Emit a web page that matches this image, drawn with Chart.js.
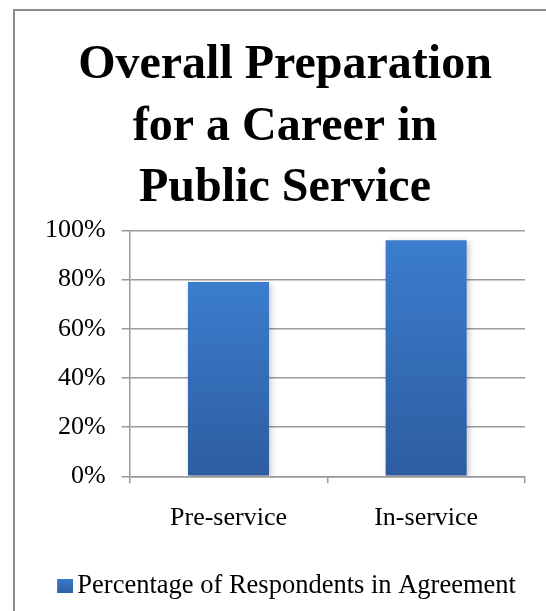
<!DOCTYPE html>
<html>
<head>
<meta charset="utf-8">
<script src="https://cdn.jsdelivr.net/npm/chart.js@4"></script>
<style>
  html, body { margin: 0; padding: 0; background: #fff; overflow: hidden; width: 546px; height: 611px; }
  #frame { position: absolute; left: 13px; top: 9px; width: 600px; height: 700px;
           border-left: 2px solid #8c8c8c; border-top: 2px solid #8c8c8c; }
  #wrap { position: absolute; left: 15px; top: 11px; width: 544px; height: 630px; }
</style>
</head>
<body>
<div id="frame"></div>
<div id="wrap"><canvas id="myChart"></canvas></div>
<script>
const categories = ['Pre-service', 'In-service'];
const agreement = [79, 96];
const seriesName = 'Percentage of Respondents in Agreement';
const titleLines = ['Overall Preparation', 'for a Career in', 'Public Service'];

const serif = "'Liberation Serif', 'Times New Roman', serif";

// vertical gradient for each bar, light at the top, dark at the base
function barFill(context) {
    const chart = context.chart;
    const y = chart.scales.y;
    if (!y || context.dataIndex === undefined) return '#3a7bcb';
    const top = y.getPixelForValue(context.raw);
    const base = y.getPixelForValue(0);
    const g = chart.ctx.createLinearGradient(0, top, 0, base);
    g.addColorStop(0, '#3b7dce');
    g.addColorStop(1, '#2d5d9f');
    return g;
}

// legend swatch: a small canvas, the square sits on its right so it hugs the text
const swatch = document.createElement('canvas');
swatch.width = 28;
swatch.height = 14;
(function () {
    const s = swatch.getContext('2d');
    const g = s.createLinearGradient(0, 0, 0, 14);
    g.addColorStop(0, '#3b79c8');
    g.addColorStop(1, '#2f62a6');
    s.fillStyle = g;
    s.fillRect(12, 0, 16, 14);
})();

const barShadow = {
    id: 'barShadow',
    beforeDatasetsDraw(chart) {
        const ctx = chart.ctx;
        ctx.save();
        ctx.shadowColor = 'rgba(0,0,0,0.22)';
        ctx.shadowBlur = 6;
        ctx.shadowOffsetX = 2;
        ctx.shadowOffsetY = 2;
    },
    afterDatasetsDraw(chart) {
        chart.ctx.restore();
    }
};

const ctx = document.getElementById('myChart').getContext('2d');
const myChart = new Chart(ctx, {
    type: 'bar',
    data: {
        labels: categories,
        datasets: [{
            label: seriesName,
            data: agreement,
            backgroundColor: barFill,
            borderWidth: 0,
            barPercentage: 0.41,
            categoryPercentage: 1.0,
        }]
    },
    options: {
        responsive: true,
        maintainAspectRatio: false,
        animation: false,
        layout: {
            padding: { left: 30, right: 34, top: 0, bottom: 32 }
        },
        scales: {
            x: {
                offset: true,
                grid: {
                    display: true,
                    offset: true,
                    drawOnChartArea: false,
                    color: '#9a9a9a',
                    lineWidth: 1.5,
                    tickLength: 7,
                },
                border: { color: '#9a9a9a', width: 1.5 },
                ticks: {
                    color: '#000',
                    padding: 19,
                    font: { family: serif, size: 26 },
                },
            },
            y: {
                min: 0,
                max: 100,
                // let the labels hang into the left padding so the title stays centred on the frame
                afterFit: (scale) => { scale.width -= 16; },
                ticks: {
                    stepSize: 20,
                    color: '#000',
                    padding: 16,
                    font: { family: serif, size: 26 },
                    callback: (v) => v + '%',
                },
                grid: {
                    color: '#9a9a9a',
                    lineWidth: 1.5,
                    tickLength: 8,
                },
                border: { color: '#9a9a9a', width: 1.5 },
            },
        },
        plugins: {
            title: {
                display: true,
                text: titleLines,
                color: '#000',
                font: { family: serif, size: 48, weight: 'bold', lineHeight: 1.28 },
                padding: { top: 24, bottom: 11 },
            },
            legend: {
                position: 'bottom',
                labels: {
                    color: '#000',
                    usePointStyle: true,
                    boxWidth: 10,
                    boxHeight: 14,
                    padding: 20,
                    font: { family: serif, size: 26.5 },
                    generateLabels: (chart) => [{
                        text: seriesName,
                        pointStyle: swatch,
                        fillStyle: '#3468b0',
                        strokeStyle: '#3468b0',
                        lineWidth: 0,
                        datasetIndex: 0,
                    }],
                },
            },
            tooltip: { enabled: false },
        }
    },
    plugins: [barShadow]
});
</script>
</body>
</html>
